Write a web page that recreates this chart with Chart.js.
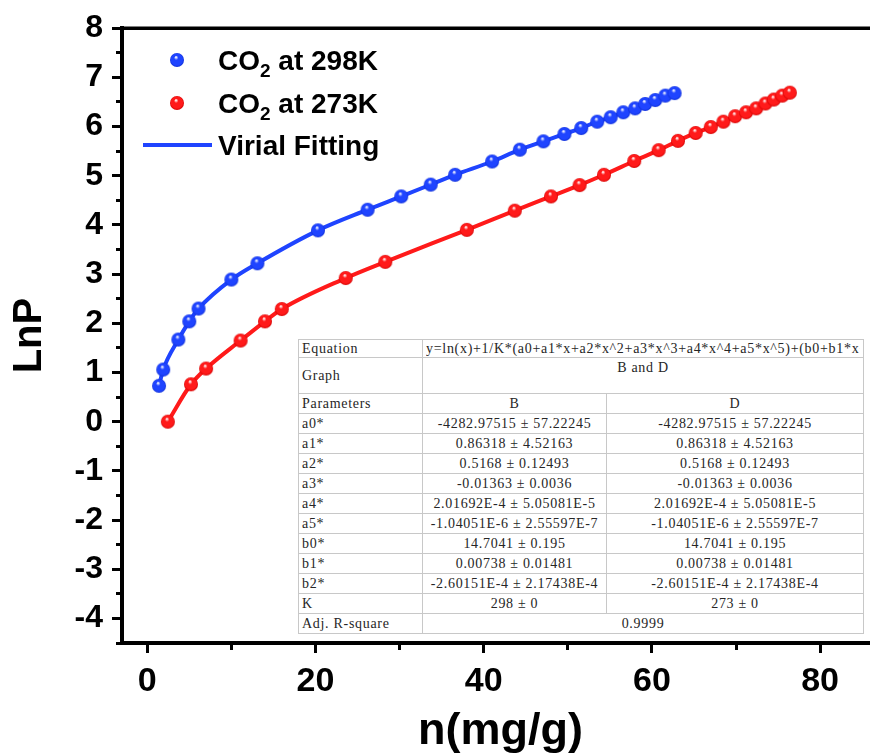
<!DOCTYPE html>
<html>
<head>
<meta charset="utf-8">
<script src="https://cdn.jsdelivr.net/npm/chart.js@4.4.1/dist/chart.umd.min.js"></script>
<style>
  html, body { margin: 0; padding: 0; background: #fff; overflow: hidden; }
  #wrap { position: relative; width: 870px; height: 753px; overflow: hidden; }
  #c { position: absolute; left: 0; top: 0; }
  table.fit {
    position: absolute; left: 298px; top: 339px;
    border-collapse: collapse; table-layout: fixed;
    font-family: "Liberation Serif", "DejaVu Serif", serif;
    font-size: 14px; letter-spacing: 0.7px; color: #262626; background: #fff;
    border: 1.5px solid #555;
  }
  table.fit td {
    border: 1px solid #c8c8c8; padding: 0 3px; height: 19px;
    white-space: nowrap; overflow: hidden; line-height: 15px;
  }
  table.fit td.v { text-align: center; }
  table.fit tr.eq td { height: 17px; }
  table.fit tr.gr td { height: 33px; }
  table.fit tr.gr td.v { vertical-align: top; padding-top: 2px; }
</style>
</head>
<body>
<div id="wrap">
  <canvas id="c" width="890" height="753"></canvas>
  <table class="fit" id="fit"></table>
</div>
<script>
// CO2 uptake n (mg/g) and ln P at 298 K
const n298   = [1.4, 1.9, 3.7, 5.0, 6.1, 10.0, 13.1, 20.3, 26.2, 30.2, 33.7, 36.6, 41.0, 44.3, 47.1, 49.6, 51.6, 53.5, 55.1, 56.6, 58.0, 59.2, 60.4, 61.6, 62.7];
const lnP298 = [0.73, 1.06, 1.67, 2.04, 2.30, 2.89, 3.22, 3.89, 4.31, 4.58, 4.82, 5.02, 5.29, 5.53, 5.70, 5.85, 5.97, 6.10, 6.19, 6.29, 6.37, 6.46, 6.54, 6.63, 6.68];

// CO2 uptake n (mg/g) and ln P at 273 K
const n273   = [2.45, 5.2, 7.0, 11.1, 14.0, 16.0, 23.6, 28.3, 38.0, 43.7, 48.0, 51.4, 54.3, 57.9, 60.8, 63.1, 65.2, 67.0, 68.5, 69.9, 71.2, 72.4, 73.5, 74.5, 75.5, 76.4];
const lnP273 = [0.0, 0.76, 1.08, 1.65, 2.04, 2.29, 2.92, 3.25, 3.90, 4.29, 4.58, 4.81, 5.02, 5.30, 5.52, 5.71, 5.87, 5.99, 6.10, 6.21, 6.29, 6.37, 6.47, 6.55, 6.63, 6.69];

// axis ticks
const xMajorTicks = [0, 20, 40, 60, 80];
const xMinorTicks = [10, 30, 50, 70];
const yMajorTicks = [-4, -3, -2, -1, 0, 1, 2, 3, 4, 5, 6, 7, 8];
const yMinorTicks = [-4.5, -3.5, -2.5, -1.5, -0.5, 0.5, 1.5, 2.5, 3.5, 4.5, 5.5, 6.5, 7.5];

// virial fit report
const fitEquation = "y=ln(x)+1/K*(a0+a1*x+a2*x^2+a3*x^3+a4*x^4+a5*x^5)+(b0+b1*x+b2*x^2)";
const fitGraph = "B and D";
const fitColumns = ["B", "D"];
const fitParamNames = ["a0*", "a1*", "a2*", "a3*", "a4*", "a5*", "b0*", "b1*", "b2*", "K"];
const fitValuesB = ["-4282.97515 ± 57.22245", "0.86318 ± 4.52163", "0.5168 ± 0.12493", "-0.01363 ± 0.0036",
  "2.01692E-4 ± 5.05081E-5", "-1.04051E-6 ± 2.55597E-7", "14.7041 ± 0.195", "0.00738 ± 0.01481",
  "-2.60151E-4 ± 2.17438E-4", "298 ± 0"];
const fitValuesD = ["-4282.97515 ± 57.22245", "0.86318 ± 4.52163", "0.5168 ± 0.12493", "-0.01363 ± 0.0036",
  "2.01692E-4 ± 5.05081E-5", "-1.04051E-6 ± 2.55597E-7", "14.7041 ± 0.195", "0.00738 ± 0.01481",
  "-2.60151E-4 ± 2.17438E-4", "273 ± 0"];
const fitAdjR2 = "0.9999";

const BLUE = '#1f44ff';
const RED = '#ff1a1a';
const FONT = '"Liberation Sans", Arial, Helvetica, sans-serif';

// shaded ball used as the point marker
function ball(base, dark, r) {
  const s = Math.ceil(r * 2 + 2);
  const c = document.createElement('canvas');
  c.width = c.height = s;
  const g = c.getContext('2d');
  const cx = s / 2, cy = s / 2;
  const grad = g.createRadialGradient(cx - r * 0.15, cy - r * 0.42, r * 0.05, cx, cy, r);
  grad.addColorStop(0, '#ffffff');
  grad.addColorStop(0.28, base);
  grad.addColorStop(0.8, base);
  grad.addColorStop(1, dark);
  g.fillStyle = grad;
  g.beginPath();
  g.arc(cx, cy, r, 0, Math.PI * 2);
  g.fill();
  return c;
}
const blueBall = ball(BLUE, '#0f2fd8', 7);
const redBall = ball(RED, '#d40000', 7);

function pts(xs, ys) { return xs.map((x, i) => ({ x: x, y: ys[i] })); }

// frame line along the top of the plot area
const frameTop = {
  id: 'frameTop',
  afterDraw(chart) {
    const { ctx, chartArea: a } = chart;
    ctx.save();
    ctx.strokeStyle = '#000';
    ctx.lineWidth = 3.5;
    ctx.beginPath();
    ctx.moveTo(a.left - 2, a.top);
    ctx.lineTo(a.right, a.top);
    ctx.stroke();
    ctx.restore();
  }
};

// legend with subscripted CO2
const keyBox = {
  id: 'keyBox',
  afterDraw(chart) {
    const ctx = chart.ctx;
    ctx.save();
    ctx.fillStyle = '#000';
    ctx.textBaseline = 'alphabetic';
    const rows = [
      { img: blueBall, y: 70, tail: ' at 298K' },
      { img: redBall, y: 113, tail: ' at 273K' }
    ];
    rows.forEach(r => {
      ctx.drawImage(r.img, 177 - r.img.width / 2, r.y - 10 - r.img.height / 2);
      let x = 218;
      ctx.font = 'bold 28px ' + FONT;
      ctx.fillText('CO', x, r.y);
      x += ctx.measureText('CO').width;
      ctx.font = 'bold 19px ' + FONT;
      ctx.fillText('2', x, r.y + 7);
      x += ctx.measureText('2').width;
      ctx.font = 'bold 28px ' + FONT;
      ctx.fillText(r.tail, x, r.y);
    });
    ctx.strokeStyle = BLUE;
    ctx.lineWidth = 4;
    ctx.beginPath();
    ctx.moveTo(143, 145);
    ctx.lineTo(212, 145);
    ctx.stroke();
    ctx.font = 'bold 28px ' + FONT;
    ctx.fillText('Virial Fitting', 218, 155);
    ctx.restore();
  }
};

const tickSet = (list) => (scale) => { scale.ticks = list.map(v => ({ value: v })); };

new Chart(document.getElementById('c'), {
  type: 'scatter',
  data: {
    datasets: [
      {
        label: 'CO2 at 298K',
        data: pts(n298, lnP298),
        showLine: true,
        cubicInterpolationMode: 'monotone',
        borderColor: BLUE,
        borderWidth: 4,
        pointStyle: blueBall,
        pointRadius: 7
      },
      {
        label: 'CO2 at 273K',
        data: pts(n273, lnP273),
        showLine: true,
        cubicInterpolationMode: 'monotone',
        borderColor: RED,
        borderWidth: 4,
        pointStyle: redBall,
        pointRadius: 7
      }
    ]
  },
  options: {
    responsive: false,
    animation: false,
    layout: { padding: { top: 28, right: 7, left: 0, bottom: 0 } },
    plugins: { legend: { display: false }, tooltip: { enabled: false } },
    scales: {
      x: {
        type: 'linear', min: -3, max: 87,
        afterBuildTicks: tickSet(xMajorTicks.concat(xMinorTicks).sort((a, b) => a - b)),
        afterFit: (s) => { s.height = 110; },
        border: { display: true, width: 4, color: '#000' },
        grid: {
          drawOnChartArea: false, drawTicks: true, tickLength: 10, tickWidth: 3, tickColor: '#000',
          tickBorderDash: (ctx) => (ctx.tick && xMinorTicks.includes(ctx.tick.value)) ? [5, 100] : []
        },
        ticks: {
          color: '#000', padding: 8, autoSkip: false, maxRotation: 0,
          font: { family: FONT, weight: 'bold', size: 34 },
          callback: (v) => xMajorTicks.includes(v) ? String(v) : ''
        },
        title: {
          display: true, text: 'n(mg/g)', color: '#000',
          font: { family: FONT, weight: 'bold', size: 45, lineHeight: 1 },
          padding: { top: 0, bottom: -1 }
        }
      },
      y: {
        type: 'linear', min: -4.5, max: 8,
        afterBuildTicks: tickSet(yMajorTicks.concat(yMinorTicks).sort((a, b) => a - b)),
        afterFit: (s) => { s.width = 122; },
        border: { display: true, width: 4, color: '#000' },
        grid: {
          drawOnChartArea: false, drawTicks: true, tickLength: 10, tickWidth: 3, tickColor: '#000',
          tickBorderDash: (ctx) => (ctx.tick && yMinorTicks.includes(ctx.tick.value)) ? [0, 4, 5, 100] : []
        },
        ticks: {
          color: '#000', padding: 9, autoSkip: false,
          font: { family: FONT, weight: 'bold', size: 32 },
          callback: (v) => yMajorTicks.includes(v) ? String(v) : ''
        },
        title: {
          display: true, text: 'LnP', color: '#000',
          font: { family: FONT, weight: 'bold', size: 40 },
          padding: { top: 6, bottom: 0 }
        }
      }
    }
  },
  plugins: [frameTop, keyBox]
});

// fit report table
(function buildTable() {
  const t = document.getElementById('fit');
  const cols = '<colgroup><col style="width:124px"><col style="width:184px"><col style="width:257px"></colgroup>';
  let h = cols;
  h += '<tr class="eq"><td>Equation</td><td colspan="2"><div style="width:434px;overflow:hidden;white-space:nowrap">' + fitEquation + '</div></td></tr>';
  h += '<tr class="gr"><td>Graph</td><td class="v" colspan="2">' + fitGraph + '</td></tr>';
  h += '<tr><td>Parameters</td><td class="v">' + fitColumns[0] + '</td><td class="v">' + fitColumns[1] + '</td></tr>';
  fitParamNames.forEach((p, i) => {
    h += '<tr><td>' + p + '</td><td class="v">' + fitValuesB[i] + '</td><td class="v">' + fitValuesD[i] + '</td></tr>';
  });
  h += '<tr><td>Adj. R-square</td><td class="v" colspan="2">' + fitAdjR2 + '</td></tr>';
  t.innerHTML = h;
})();
</script>
</body>
</html>
